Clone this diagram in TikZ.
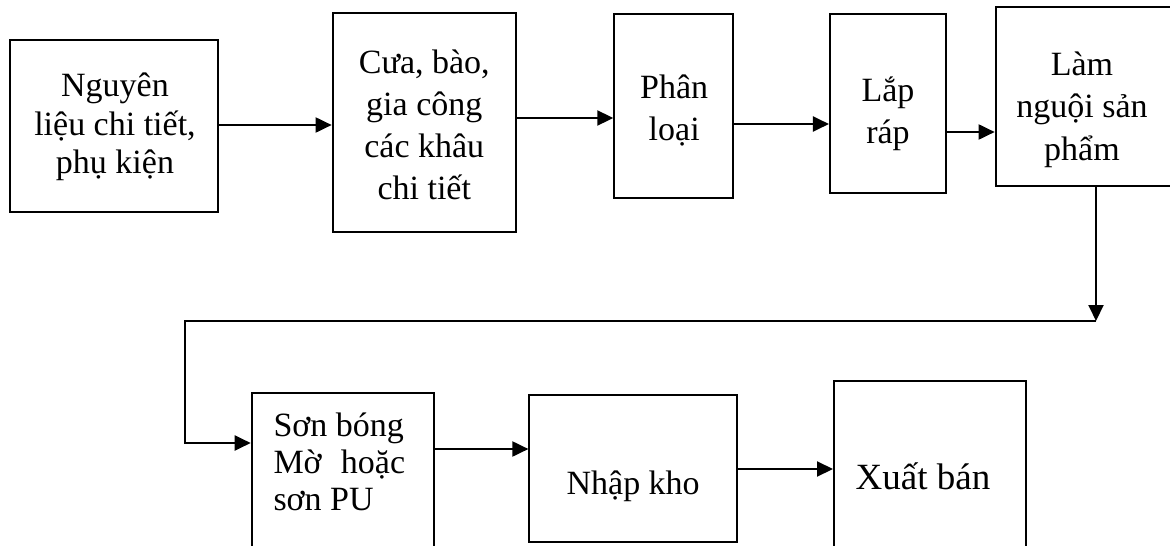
\documentclass[tikz,border=0pt]{standalone}
\usepackage{fontspec}
\setmainfont{Liberation Serif}
\usetikzlibrary{arrows.meta}
\begin{document}
\begin{tikzpicture}[x=1pt,y=-1pt,
  box/.style={draw, line width=2pt, inner sep=0pt},
  label text/.style={inner sep=0pt, anchor=base, text width=200pt, align=flush center,
    font=\fontsize{34}{#1}\selectfont},
  arr/.style={line width=2pt, -{Triangle[length=16pt,width=15pt]}}]
\useasboundingbox (0,0) rectangle (1170,546);
\clip (0,0) rectangle (1170,546);

% process boxes (the right and lower ones run past the edges)
\node[box, minimum width=208pt,   minimum height=172pt]   (b1) at (114,126) {};
\node[box, minimum width=183.3pt, minimum height=218.7pt] (b2) at (424.3,122.6) {};
\node[box, minimum width=119pt,   minimum height=183.7pt] (b3) at (673.8,105.8) {};
\node[box, minimum width=115.7pt, minimum height=178.7pt] (b4) at (887.8,103.3) {};
\node[box, minimum width=176.3pt, minimum height=178.4pt] (b5) at (1083.8,96.5) {};
\node[box, minimum width=182.6pt, minimum height=158.7pt] (b6) at (343,472.7) {};
\node[box, minimum width=207.6pt, minimum height=146.4pt] (b7) at (633.2,468.5) {};
\node[box, minimum width=192pt,   minimum height=192pt]   (b8) at (930,477) {};

% box texts, placed by the baseline of their first line
\node[label text=38.3] (t1) at (115,96.7) {Nguyên\\liệu chi tiết,\\phụ kiện};
\node[label text=42]   (t2) at (424.3,73) {Cưa, bào,\\gia công\\các khâu\\chi tiết};
\node[label text=42]   (t3) at (674.2,98) {Phân\\loại};
\node[label text=42]   (t4) at (888,101) {Lắp\\ráp};
\node[label text=42.5] (t5) at (1082,75) {Làm\\nguội sản\\phẩm};
\node[label text=36.7, text width=150pt, align=flush left, anchor=base west] (t6) at (273.3,436.7)
  {Sơn bóng\\\makebox[131.7pt][l]{Mờ\hfill hoặc}\\sơn PU};
\node[label text=40]   (t7) at (633.2,494) {Nhập kho};
\node[label text=42, font=\fontsize{37}{42}\selectfont] (t8) at (923,489) {Xuất bán};

% connector heights and bends
\coordinate (r1) at (0,125);
\coordinate (r2) at (0,118);
\coordinate (r3) at (0,124);
\coordinate (r4) at (0,132);
\coordinate (r6) at (0,449);
\coordinate (r7) at (0,469);
\coordinate (j)  at (1096,321);
\coordinate (c1) at (184.7,321);
\coordinate (c2) at (184.7,443);

\draw[arr] (b1.east |- r1) -- (b2.west |- r1);
\draw[arr] (b2.east |- r2) -- (b3.west |- r2);
\draw[arr] (b3.east |- r3) -- (b4.west |- r3);
\draw[arr] (b4.east |- r4) -- (b5.west |- r4);
\draw[arr] (b5.south -| j) -- (j);
\draw[arr] (j) -- (c1) -- (c2) -- (b6.west |- c2);
\draw[arr] (b6.east |- r6) -- (b7.west |- r6);
\draw[arr] (b7.east |- r7) -- (b8.west |- r7);
\end{tikzpicture}
\end{document}
